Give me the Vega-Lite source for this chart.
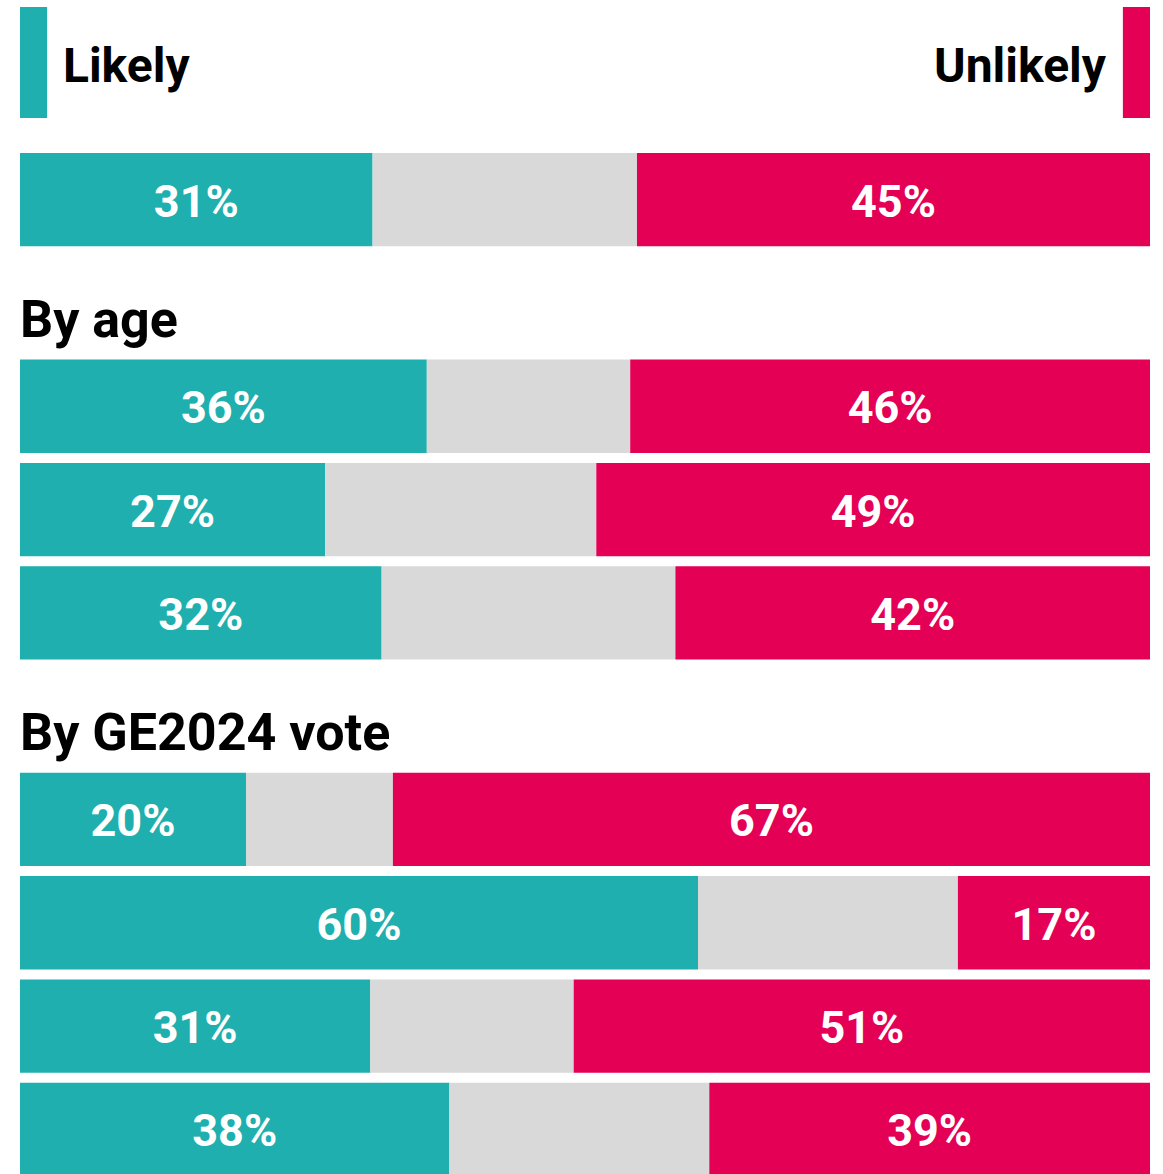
{
  "$schema": "https://vega.github.io/schema/vega-lite/v6.json",
  "background": "white",
  "padding": {"left": 20, "top": 0, "right": 13, "bottom": 0},
  "spacing": 0,
  "config": {"view": {"stroke": null}, "font": "Roboto"},
  "vconcat": [
    {
      "width": 1130,
      "height": 153,
      "data": {"values": [{}]},
      "layer": [
        {
          "mark": {"type": "rect", "color": "#1EAFAE"},
          "encoding": {
            "x": {"datum": 0, "type": "quantitative", "scale": {"domain": [0, 1], "nice": false}, "axis": null},
            "x2": {"datum": 0.024},
            "y": {"datum": 7, "type": "quantitative", "scale": {"domain": [0, 153], "reverse": true, "nice": false}, "axis": null},
            "y2": {"datum": 118}
          }
        },
        {
          "mark": {"type": "rect", "color": "#E40055"},
          "encoding": {
            "x": {"datum": 0.976, "type": "quantitative"},
            "x2": {"datum": 1},
            "y": {"datum": 7, "type": "quantitative"},
            "y2": {"datum": 118}
          }
        },
        {
          "mark": {"type": "text", "text": "Likely", "align": "left", "baseline": "alphabetic", "fontSize": 48, "fontWeight": "bold", "color": "#000000"},
          "encoding": {
            "x": {"datum": 0.038, "type": "quantitative"},
            "y": {"datum": 82, "type": "quantitative"}
          }
        },
        {
          "mark": {"type": "text", "text": "Unlikely", "align": "right", "baseline": "alphabetic", "fontSize": 48, "fontWeight": "bold", "color": "#000000"},
          "encoding": {
            "x": {"datum": 0.961, "type": "quantitative"},
            "y": {"datum": 82, "type": "quantitative"}
          }
        }
      ]
    },
    {
      "width": 1130,
      "height": 1023,
      "layer": [
        {
          "data": {
            "values": [
              {"row": "All", "response": "Likely", "value": 0.312},
              {"row": "All", "response": "Neither", "value": 0.234},
              {"row": "All", "response": "Unlikely", "value": 0.454},
              {"row": "Age group 1", "response": "Likely", "value": 0.36},
              {"row": "Age group 1", "response": "Neither", "value": 0.18},
              {"row": "Age group 1", "response": "Unlikely", "value": 0.46},
              {"row": "Age group 2", "response": "Likely", "value": 0.27},
              {"row": "Age group 2", "response": "Neither", "value": 0.24},
              {"row": "Age group 2", "response": "Unlikely", "value": 0.49},
              {"row": "Age group 3", "response": "Likely", "value": 0.32},
              {"row": "Age group 3", "response": "Neither", "value": 0.26},
              {"row": "Age group 3", "response": "Unlikely", "value": 0.42},
              {"row": "Vote group 1", "response": "Likely", "value": 0.20},
              {"row": "Vote group 1", "response": "Neither", "value": 0.13},
              {"row": "Vote group 1", "response": "Unlikely", "value": 0.67},
              {"row": "Vote group 2", "response": "Likely", "value": 0.60},
              {"row": "Vote group 2", "response": "Neither", "value": 0.23},
              {"row": "Vote group 2", "response": "Unlikely", "value": 0.17},
              {"row": "Vote group 3", "response": "Likely", "value": 0.31},
              {"row": "Vote group 3", "response": "Neither", "value": 0.18},
              {"row": "Vote group 3", "response": "Unlikely", "value": 0.51},
              {"row": "Vote group 4", "response": "Likely", "value": 0.38},
              {"row": "Vote group 4", "response": "Neither", "value": 0.23},
              {"row": "Vote group 4", "response": "Unlikely", "value": 0.39}
            ]
          },
          "encoding": {
            "y": {
              "field": "row", "type": "nominal", "axis": null,
              "scale": {
                "domain": ["All", "hAge", "Age group 1", "Age group 2", "Age group 3", "hVote", "Vote group 1", "Vote group 2", "Vote group 3", "Vote group 4"],
                "paddingInner": 0.097, "paddingOuter": 0
              }
            },
            "x": {"field": "value", "type": "quantitative", "stack": "zero", "axis": null, "scale": {"domain": [0, 1], "nice": false}},
            "order": {"field": "response", "sort": "ascending"}
          },
          "layer": [
            {
              "mark": {"type": "bar"},
              "encoding": {
                "color": {
                  "field": "response", "type": "nominal", "legend": null,
                  "scale": {"domain": ["Likely", "Neither", "Unlikely"], "range": ["#1EAFAE", "#D9D9D9", "#E40055"]}
                }
              }
            },
            {
              "mark": {"type": "text", "fontSize": 45, "fontWeight": "bold", "color": "white", "baseline": "middle", "align": "center", "dy": 3},
              "encoding": {
                "x": {"field": "value", "type": "quantitative", "stack": "zero", "bandPosition": 0.5},
                "text": {"field": "value", "type": "quantitative", "format": ".0%"},
                "opacity": {"condition": {"test": "datum.response === 'Neither'", "value": 0}, "value": 1}
              }
            }
          ]
        },
        {
          "data": {
            "values": [
              {"row": "hAge", "label": "By age"},
              {"row": "hVote", "label": "By GE2024 vote"}
            ]
          },
          "mark": {"type": "text", "align": "left", "baseline": "alphabetic", "fontSize": 52, "fontWeight": "bold", "color": "#000000", "dy": 34},
          "encoding": {
            "y": {"field": "row", "type": "nominal"},
            "x": {"datum": 0, "type": "quantitative"},
            "text": {"field": "label"}
          }
        }
      ]
    }
  ]
}
